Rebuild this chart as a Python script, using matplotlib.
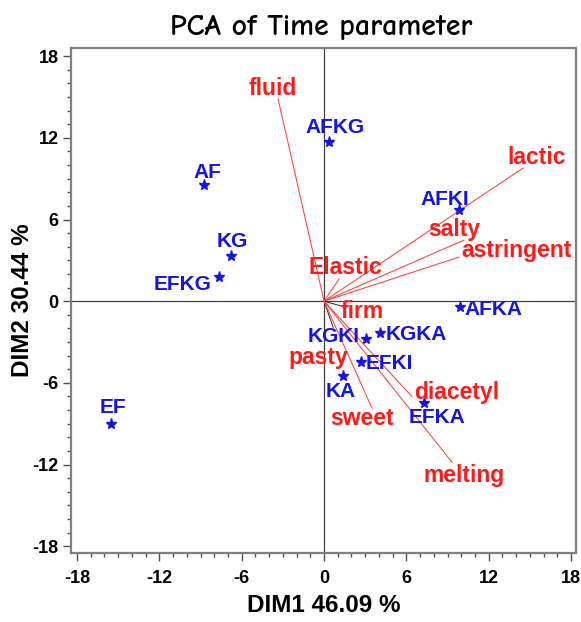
import matplotlib
matplotlib.use("Agg")
import matplotlib.pyplot as plt
from matplotlib.ticker import MultipleLocator

plt.rcParams['font.family'] = ['Liberation Sans', 'DejaVu Sans']

# ---- data ----
obs_names = ["AFKG", "AF", "KG", "EFKG", "EF", "AFKI", "AFKA", "KGKA", "KGKI", "EFKI", "KA", "EFKA"]
obs_dim1 = [0.36, -8.75, -6.8, -7.65, -15.5, 9.84, 9.9, 4.1, 3.06, 2.7, 1.38, 7.3]
obs_dim2 = [11.7, 8.5, 3.3, 1.76, -9.0, 6.7, -0.44, -2.35, -2.8, -4.5, -5.5, -7.5]

var_names = ["fluid", "lactic", "salty", "astringent", "Elastic", "firm", "pasty", "sweet", "diacetyl", "melting"]
var_dim1 = [-3.35, 14.5, 10.2, 9.84, 1.09, 1.3, 0.66, 3.5, 6.4, 9.33]
var_dim2 = [14.85, 9.78, 4.49, 3.24, 1.62, -0.37, -1.91, -7.87, -7.0, -11.84]

title = "PCA of Time parameter"
xlabel = "DIM1 46.09 %"
ylabel = "DIM2 30.44 %"
ticks = [-18, -12, -6, 0, 6, 12, 18]

# ---- layout / style ----
# label placement: (dx, dy) pixels, ha
obs_label_style = {
    "AFKG": (6, 14, "center"), "AF": (3, 13, "center"), "KG": (2, 15, "center"),
    "EFKG": (-8, -7, "right"), "EF": (2, 16, "center"), "AFKI": (-14, 10, "center"),
    "AFKA": (5, -2, "left"), "KGKA": (5, -1, "left"), "KGKI": (-6, 3, "right"),
    "EFKI": (5, -1, "left"), "KA": (-2, -15, "center"), "EFKA": (13, -14, "center"),
}
var_label_style = {
    "fluid": (-5, 11), "lactic": (14, 11), "salty": (-10, 11), "astringent": (57, 7),
    "Elastic": (6, 12), "firm": (20, -5), "pasty": (-15, -30), "sweet": (-10, -10),
    "diacetyl": (45, 4), "melting": (12, -13),
}
dark_vars = {"firm", "pasty"}
BLUE = "#1414e6"
RED = "#ff1a1a"

fig = plt.figure(figsize=(5.81, 6.22), dpi=100)
ax = fig.add_axes([71/581, 1-553/622, (576-71)/581, (553-48)/622])
ax.set_xlim(-18.44, 18.36)
ax.set_ylim(-18.5, 18.6)

ax.axhline(0, color="#404040", lw=0.9, zorder=1)
ax.axvline(0, color="#404040", lw=0.9, zorder=1)

for name, x, y in zip(var_names, var_dim1, var_dim2):
    col = "#303030" if name in dark_vars else "#ff4040"
    ax.plot([0, x], [0, y], color=col, lw=0.75, zorder=2)
    dx, dy = var_label_style[name]
    ax.annotate(name, (x, y), xytext=(dx, dy), textcoords="offset pixels",
                ha="center", va="center", color=RED, fontsize=16.5,
                fontweight="bold", zorder=4)

ax.plot(obs_dim1, obs_dim2, linestyle="none", marker="*", color=BLUE, markersize=8, zorder=3)
for name, x, y in zip(obs_names, obs_dim1, obs_dim2):
    dx, dy, ha = obs_label_style[name]
    ax.annotate(name, (x, y), xytext=(dx, dy), textcoords="offset pixels",
                ha=ha, va="center", color=BLUE, fontsize=15, fontweight="bold", zorder=4)

for s in ax.spines.values():
    s.set_color("#808080")
    s.set_linewidth(1.6)
ax.set_xticks(ticks)
ax.set_yticks(ticks)
ax.set_xticklabels([str(t) for t in ticks])
ax.set_yticklabels([str(t) for t in ticks])
ax.xaxis.set_minor_locator(MultipleLocator(1))
ax.yaxis.set_minor_locator(MultipleLocator(1))
ax.tick_params(which="major", direction="out", length=6, width=1, color="#505050",
               labelsize=13, pad=3)
ax.tick_params(axis="x", which="major", pad=6)
ax.tick_params(which="minor", direction="out", length=3, width=1, color="#505050")
for lab in ax.get_xticklabels() + ax.get_yticklabels():
    lab.set_fontweight("bold")

ax.set_xlabel(xlabel, fontsize=17.5, fontweight="bold", labelpad=5)
ax.set_ylabel(ylabel, fontsize=17.5, fontweight="bold", labelpad=-1)
fig.text(321/581, 1-27/622, title, ha="center", va="center", fontsize=21.5,
         fontweight="bold", family=["Comic Neue", "DejaVu Sans"])

fig.savefig("out.png", dpi=100)
